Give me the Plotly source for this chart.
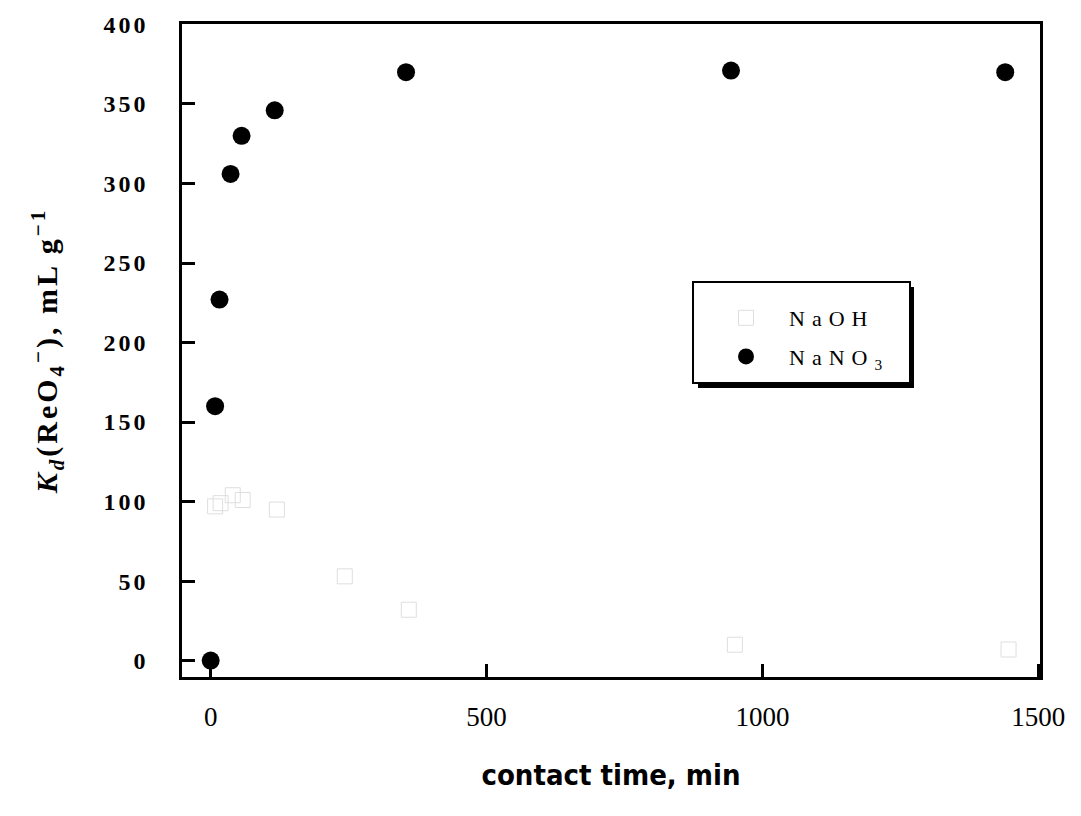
import plotly.graph_objects as go

# contact time (min) and distribution coefficient Kd (mL/g)
naoh_time = [8, 18, 40, 58, 120, 243, 359, 950, 1446]
naoh_kd = [97, 99, 104, 101, 95, 53, 32, 10, 7]

nano3_time = [0, 8, 16, 36, 56, 116, 354, 943, 1440]
nano3_kd = [0, 160, 227, 306, 330, 346, 370, 371, 370]

x_ticks = [0, 500, 1000, 1500]
y_ticks = [0, 50, 100, 150, 200, 250, 300, 350, 400]

serif = "Liberation Serif, Times New Roman, serif"

# plot area in pixels, used to place the legend box in paper units
L, R, T, B = 182, 1040, 24, 677


def px(x):
    return (x - L) / (R - L)


def py(y):
    return (B - y) / (B - T)


def spaced(text, gap):
    return f'<span style="letter-spacing:{gap}px">{text}</span>'


fig = go.Figure()
fig.add_trace(go.Scatter(
    x=naoh_time, y=naoh_kd, mode="markers", name=spaced("NaOH", 7),
    legendgroup="naoh",
    marker=dict(symbol="square-open", size=15, color="#dedede",
                line=dict(width=1, color="#dedede")),
))
fig.add_trace(go.Scatter(
    x=nano3_time, y=nano3_kd, mode="markers", name=spaced("NaNO<sub>3</sub>", 7),
    legendgroup="nano3",
    marker=dict(symbol="circle", size=18, color="black"),
))

# legend frame with a drop shadow
fig.add_shape(type="rect", xref="paper", yref="paper",
              x0=px(698), x1=px(914), y0=py(388), y1=py(287),
              fillcolor="black", line=dict(width=0), layer="above")
fig.add_shape(type="rect", xref="paper", yref="paper",
              x0=px(693), x1=px(910), y0=py(383), y1=py(282),
              fillcolor="white", line=dict(width=2, color="black"), layer="above")

axis_common = dict(
    showline=True, linecolor="black", linewidth=2.5, mirror=True,
    ticks="inside", ticklen=13, tickwidth=2.5, tickcolor="black",
    showgrid=False, zeroline=False,
)

fig.update_layout(
    width=1081, height=816,
    margin=dict(l=L, r=1081 - R, t=T, b=816 - B),
    plot_bgcolor="white", paper_bgcolor="white",
    showlegend=True,
    legend=dict(
        x=px(703), y=py(297), xanchor="left", yanchor="top",
        bgcolor="rgba(0,0,0,0)", borderwidth=0,
        font=dict(family=serif, size=22, color="black"),
        itemwidth=76, tracegroupgap=7,
    ),
    xaxis=dict(
        range=[-52, 1503], tickvals=x_ticks,
        ticktext=[str(v) for v in x_ticks],
        tickfont=dict(family=serif, size=27, color="black"),
        ticklabelstandoff=14,
        title=dict(text="contact time, min", standoff=34,
                   font=dict(family="Liberation Sans Narrow, DejaVu Sans Condensed, sans-serif",
                             size=29, color="black", weight="bold")),
        **axis_common,
    ),
    yaxis=dict(
        range=[-10.3, 400.3], tickvals=y_ticks,
        ticktext=[spaced(str(v), 3) for v in y_ticks],
        tickfont=dict(family=serif, size=24, color="black", weight="bold"),
        ticklabelstandoff=26,
        title=dict(text=spaced("<i>K<sub>d</sub></i>(ReO<sub>4</sub><sup>\u2212</sup>), mL g<sup>\u22121</sup>", 3),
                   standoff=37,
                   font=dict(family=serif, size=30, color="black", weight="bold")),
        **axis_common,
    ),
)

fig.write_html("out.html")
